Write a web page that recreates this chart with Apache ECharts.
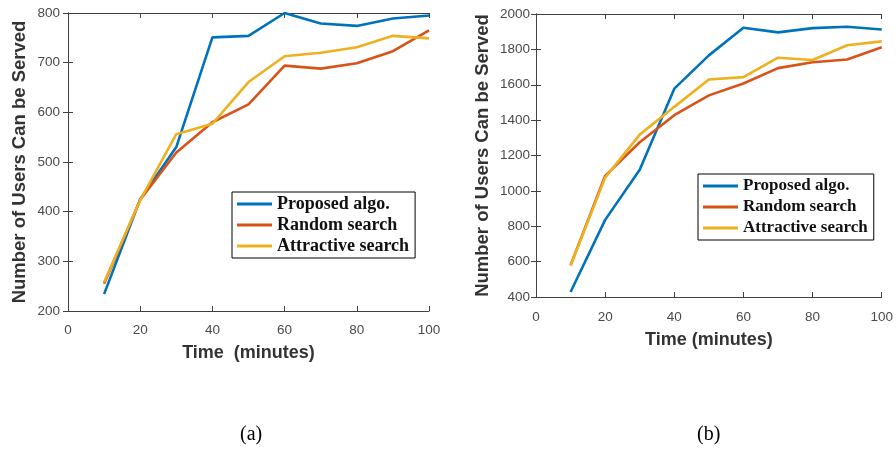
<!DOCTYPE html>
<html>
<head>
<meta charset="utf-8">
<script src="https://cdn.jsdelivr.net/npm/echarts@6/dist/echarts.min.js"></script>
<style>
html, body { margin: 0; padding: 0; background: #fff; }
#chart { width: 896px; height: 450px; }
</style>
</head>
<body>
<div id="chart"></div>
<script>
"use strict";

// time axis (minutes)
var times = [10, 20, 30, 40, 50, 60, 70, 80, 90, 100];
var names = ["Proposed algo.", "Random search", "Attractive search"];
var colors = ["#0072BD", "#D95319", "#EDB120"];

// panel (a)
var aProposed = [234, 425, 530, 751, 754, 800, 779, 774, 789, 795];
var aRandom = [255, 424, 519, 580, 616, 694, 688, 699, 723, 765];
var aAttractive = [258, 423, 556, 577, 661, 713, 720, 731, 754, 749];

// panel (b)
var bProposed = [428, 836, 1120, 1578, 1766, 1922, 1896, 1920, 1928, 1912];
var bRandom = [580, 1085, 1275, 1428, 1540, 1607, 1694, 1727, 1743, 1812];
var bAttractive = [578, 1075, 1318, 1475, 1630, 1643, 1753, 1740, 1823, 1845];

var chart = echarts.init(document.getElementById("chart"));

function pairs(v) {
    var a = [];
    for (var i = 0; i < times.length; i++) { a.push([times[i], v[i]]); }
    return a;
}

var axisLine = { show: true, lineStyle: { color: "#404040", width: 1 } };
var tickIn = { show: true, inside: true, length: 5, lineStyle: { color: "#404040" } };
var labelStyle = { color: "#4a4a4a", fontFamily: "Liberation Sans", fontSize: 13.5, formatter: function(v) { return String(v); } };
var nameStyle = { color: "#333", fontFamily: "Liberation Sans", fontWeight: "bold", fontSize: 18 };

function xAx(grid, pos, title, gap, margin) {
    return {
        type: "value", gridIndex: grid, position: pos, min: 0, max: 100, interval: 20,
        name: title, nameLocation: "middle", nameGap: gap, nameTextStyle: nameStyle,
        axisLine: axisLine, axisTick: tickIn, splitLine: { show: false },
        axisLabel: Object.assign({ show: pos === "bottom", margin: margin }, labelStyle)
    };
}

function yAx(grid, pos, min, max, step, gap, margin) {
    return {
        type: "value", gridIndex: grid, position: pos, min: min, max: max, interval: step,
        name: pos === "left" ? "Number of Users Can be Served" : "",
        nameLocation: "middle", nameRotate: 90, nameGap: gap,
        nameTextStyle: Object.assign({}, nameStyle, { fontSize: 18.5 }),
        axisLine: axisLine, axisTick: tickIn, splitLine: { show: false },
        axisLabel: Object.assign({ show: pos === "left", margin: margin }, labelStyle)
    };
}

function legendAt(left, top, size) {
    return {
        orient: "vertical", left: left, top: top, data: names,
        icon: "rect", itemWidth: 35, itemHeight: 3, itemGap: 1,
        padding: [2, 6, 2, 5], borderColor: "#000", borderWidth: 1, backgroundColor: "#fff",
        textStyle: { fontFamily: "Liberation Serif", fontWeight: "bold", fontSize: size, color: "#111", lineHeight: 20 }
    };
}

function line(i, xi, v) {
    return {
        name: names[i], type: "line", xAxisIndex: xi, yAxisIndex: xi,
        data: pairs(v), symbol: "none", color: colors[i],
        lineStyle: { width: 2.6, color: colors[i] }
    };
}

var option = {
    animation: false,
    grid: [
        { left: 68, top: 13, width: 361, height: 298 },
        { left: 536, top: 14, width: 349, height: 283 }
    ],
    xAxis: [
        xAx(0, "bottom", "Time  (minutes)", 33, 12),
        xAx(1, "bottom", "Time (minutes)", 34, 13),
        xAx(0, "top", "", 0, 0),
        xAx(1, "top", "", 0, 0)
    ],
    yAxis: [
        yAx(0, "left", 200, 800, 100, 39, 8),
        yAx(1, "left", 400, 2000, 200, 44, 6),
        yAx(0, "right", 200, 800, 100, 0, 0),
        yAx(1, "right", 400, 2000, 200, 0, 0)
    ],
    legend: [legendAt(232, 192, 18), legendAt(698, 174, 17)],
    graphic: [
        { type: "text", left: 240, top: 425, style: { text: "(a)", font: "20px 'Liberation Serif'", fill: "#000" } },
        { type: "text", left: 697, top: 425, style: { text: "(b)", font: "20px 'Liberation Serif'", fill: "#000" } }
    ],
    series: [
        line(0, 0, aProposed), line(1, 0, aRandom), line(2, 0, aAttractive),
        line(0, 1, bProposed), line(1, 1, bRandom), line(2, 1, bAttractive)
    ]
};

chart.setOption(option);
</script>
</body>
</html>
